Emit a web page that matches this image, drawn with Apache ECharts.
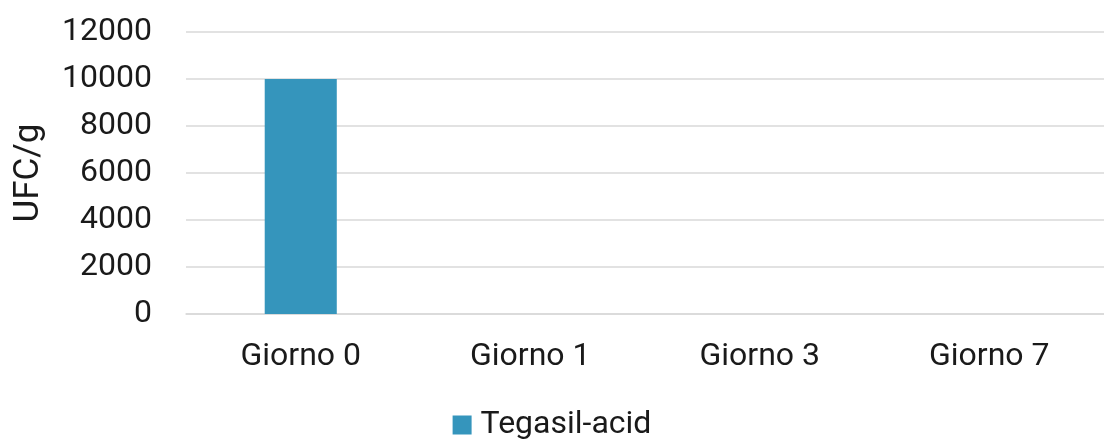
<!DOCTYPE html>
<html>
<head>
<meta charset="utf-8">
<script src="https://cdn.jsdelivr.net/npm/echarts@6/dist/echarts.min.js"></script>
<style>
  html, body { margin: 0; padding: 0; background: #fff; }
  #chart { width: 1104px; height: 440px; }
</style>
</head>
<body>
<div id="chart"></div>
<script>
  // categorie e valori
  var giorni = ['Giorno 0', 'Giorno 1', 'Giorno 3', 'Giorno 7'];
  var tegasilAcid = [10000, 0, 0, 0];
  var serieNome = 'Tegasil-acid';

  var font = 'Roboto';
  var chart = echarts.init(document.getElementById('chart'));
  chart.setOption({
    animation: false,
    grid: { left: 186, right: 0, top: 32, bottom: 126 },
    legend: {
      bottom: -6,
      left: 'center',
      itemWidth: 19,
      itemHeight: 19,
      itemGap: 10,
      icon: 'rect',
      textStyle: { fontFamily: font, fontSize: 32, color: '#1a1a1a', padding: [0, 0, 0, 4] },
      data: [serieNome]
    },
    xAxis: {
      type: 'category',
      data: giorni,
      axisTick: { show: false },
      axisLine: { lineStyle: { color: '#d9d9d9', width: 1.5 } },
      axisLabel: { margin: 27, fontFamily: font, fontSize: 32, color: '#1a1a1a' }
    },
    yAxis: {
      type: 'value',
      min: 0,
      max: 12000,
      interval: 2000,
      name: 'UFC/g',
      nameLocation: 'middle',
      nameGap: 139,
      nameTextStyle: { fontFamily: font, fontSize: 35, color: '#1a1a1a' },
      axisLine: { show: false },
      axisTick: { show: false },
      axisLabel: {
        margin: 34, fontFamily: font, fontSize: 32, color: '#1a1a1a',
        formatter: function (v) { return String(v); }
      },
      splitLine: { lineStyle: { color: '#d9d9d9', width: 1.5 } }
    },
    series: [{
      name: serieNome,
      type: 'bar',
      barWidth: '31.4%',
      itemStyle: { color: '#3595bc' },
      data: tegasilAcid
    }]
  });
</script>
</body>
</html>
